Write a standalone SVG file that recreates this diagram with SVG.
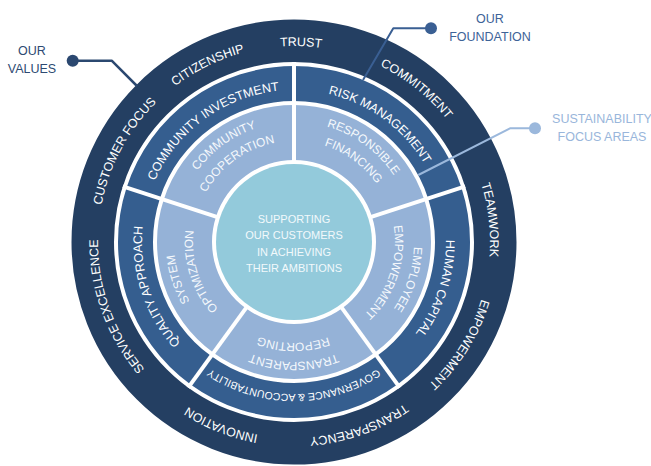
<svg xmlns="http://www.w3.org/2000/svg" xmlns:xlink="http://www.w3.org/1999/xlink" width="651" height="466" viewBox="0 0 651 466">
<style>
  text { font-family: "Liberation Sans", Arial, sans-serif; }
  .rt { fill: #ffffff; text-anchor: middle; }
  .val { font-size: 12.5px; }
  .area { font-size: 12.5px; }
  .focus { font-size: 12px; fill: #f4f8fc; }
  .ctr { font-size: 11px; fill: #f2f9fb; text-anchor: middle; }
  .blue { fill: #355e8f; }
  .light { fill: #95b2d7; }
  .div { stroke: #ffffff; stroke-width: 4; fill: none; }
  .lbl { font-size: 12.5px; text-anchor: middle; }
</style>
<defs>
  <path id="p196" d="M 98 242 A 196 196 0 1 1 490 242 A 196 196 0 1 1 98 242 A 196 196 0 1 1 490 242 A 196 196 0 1 1 98 242"/>
  <path id="p152" d="M 142 242 A 152 152 0 1 1 446 242 A 152 152 0 1 1 142 242 A 152 152 0 1 1 446 242 A 152 152 0 1 1 142 242"/>
  <path id="p120" d="M 174 242 A 120 120 0 1 1 414 242 A 120 120 0 1 1 174 242 A 120 120 0 1 1 414 242 A 120 120 0 1 1 174 242"/>
  <path id="p101" d="M 193 242 A 101 101 0 1 1 395 242 A 101 101 0 1 1 193 242 A 101 101 0 1 1 395 242 A 101 101 0 1 1 193 242"/>
</defs>
<rect width="651" height="466" fill="#ffffff"/>

<g id="values-ring">
  <circle cx="294" cy="242" r="201.25" fill="none" stroke="#243f62" stroke-width="42.5"/>
  <text class="rt val"><textPath xlink:href="#p196" href="#p196" startOffset="314.7">TRUST</textPath></text>
  <text class="rt val"><textPath xlink:href="#p196" href="#p196" startOffset="218.9">CITIZENSHIP</textPath></text>
  <text class="rt val"><textPath xlink:href="#p196" href="#p196" startOffset="439.9">COMMITMENT</textPath></text>
  <text class="rt val"><textPath xlink:href="#p196" href="#p196" startOffset="593.5">TEAMWORK</textPath></text>
  <text class="rt val"><textPath xlink:href="#p196" href="#p196" startOffset="724.2">EMPOWERMENT</textPath></text>
  <text class="rt val"><textPath xlink:href="#p196" href="#p196" startOffset="856.6">TRANSPARENCY</textPath></text>
  <text class="rt val"><textPath xlink:href="#p196" href="#p196" startOffset="997.5">INNOVATION</textPath></text>
  <text class="rt val"><textPath xlink:href="#p196" href="#p196" startOffset="1163.1">SERVICE EXCELLENCE</textPath></text>
  <text class="rt val"><textPath xlink:href="#p196" href="#p196" startOffset="1327.3">CUSTOMER FOCUS</textPath></text>
</g>

<g id="seg-community">
  <path class="blue" d="M 126.61 187.61 A 176 176 0 0 1 294 66 L 294 101 A 141 141 0 0 0 159.90 198.43 Z"/>
  <path class="light" d="M 163.71 199.66 A 137 137 0 0 1 294 105 L 294 160 A 82 82 0 0 0 216.01 216.66 Z"/>
  <text class="rt area"><textPath xlink:href="#p152" href="#p152" startOffset="143.3">COMMUNITY INVESTMENT</textPath></text>
  <text class="rt focus"><textPath xlink:href="#p120" href="#p120" startOffset="113.1">COMMUNITY</textPath></text>
  <text class="rt focus"><textPath xlink:href="#p101" href="#p101" startOffset="95.2">COOPERATION</textPath></text>
</g>

<g id="seg-risk">
  <path class="blue" d="M 294 66 A 176 176 0 0 1 461.39 187.61 L 428.10 198.43 A 141 141 0 0 0 294 101 Z"/>
  <path class="light" d="M 294 105 A 137 137 0 0 1 424.29 199.66 L 371.99 216.66 A 82 82 0 0 0 294 160 Z"/>
  <text class="rt area"><textPath xlink:href="#p152" href="#p152" startOffset="334.3">RISK MANAGEMENT</textPath></text>
  <text class="rt focus"><textPath xlink:href="#p120" href="#p120" startOffset="263.9">RESPONSIBLE</textPath></text>
  <text class="rt focus"><textPath xlink:href="#p101" href="#p101" startOffset="222.1">FINANCING</textPath></text>
</g>

<g id="seg-human">
  <path class="blue" d="M 461.39 187.61 A 176 176 0 0 1 397.45 384.39 L 376.88 356.07 A 141 141 0 0 0 428.10 198.43 Z"/>
  <path class="light" d="M 424.29 199.66 A 137 137 0 0 1 374.53 352.84 L 342.20 308.34 A 82 82 0 0 0 371.99 216.66 Z"/>
  <text class="rt area"><textPath xlink:href="#p152" href="#p152" startOffset="525.3">HUMAN CAPITAL</textPath></text>
  <text class="rt focus"><textPath xlink:href="#p120" href="#p120" startOffset="414.7">EMPLOYEE</textPath></text>
  <text class="rt focus"><textPath xlink:href="#p101" href="#p101" startOffset="349.0">EMPOWERMENT</textPath></text>
</g>

<g id="seg-governance">
  <path class="blue" d="M 397.45 384.39 A 176 176 0 0 1 190.55 384.39 L 211.12 356.07 A 141 141 0 0 0 376.88 356.07 Z"/>
  <path class="light" d="M 374.53 352.84 A 137 137 0 0 1 213.47 352.84 L 245.80 308.34 A 82 82 0 0 0 342.20 308.34 Z"/>
  <text class="rt area" style="font-size:10.5px"><textPath xlink:href="#p152" href="#p152" startOffset="716.3">GOVERNANCE &amp; ACCOUNTABILITY</textPath></text>
  <text class="rt focus"><textPath xlink:href="#p120" href="#p120" startOffset="565.5">TRANSPARENT</textPath></text>
  <text class="rt focus"><textPath xlink:href="#p101" href="#p101" startOffset="475.9">REPORTING</textPath></text>
</g>

<g id="seg-quality">
  <path class="blue" d="M 190.55 384.39 A 176 176 0 0 1 126.61 187.61 L 159.90 198.43 A 141 141 0 0 0 211.12 356.07 Z"/>
  <path class="light" d="M 213.47 352.84 A 137 137 0 0 1 163.71 199.66 L 216.01 216.66 A 82 82 0 0 0 245.80 308.34 Z"/>
  <text class="rt area"><textPath xlink:href="#p152" href="#p152" startOffset="907.3">QUALITY APPROACH</textPath></text>
  <text class="rt focus"><textPath xlink:href="#p120" href="#p120" startOffset="716.3">SYSTEM</textPath></text>
  <text class="rt focus"><textPath xlink:href="#p101" href="#p101" startOffset="602.9">OPTIMIZATION</textPath></text>
</g>

<g id="dividers">
  <line class="div" x1="294" y1="164" x2="294" y2="62"/>
  <line class="div" x1="368.18" y1="217.90" x2="465.19" y2="186.38"/>
  <line class="div" x1="339.85" y1="305.10" x2="399.80" y2="387.62"/>
  <line class="div" x1="248.15" y1="305.10" x2="188.20" y2="387.62"/>
  <line class="div" x1="219.82" y1="217.90" x2="122.81" y2="186.38"/>
</g>

<g id="center">
  <circle cx="294" cy="242" r="78" fill="#93cadb"/>
  <text class="ctr" x="294" y="223">SUPPORTING</text>
  <text class="ctr" x="294" y="239">OUR CUSTOMERS</text>
  <text class="ctr" x="294" y="256">IN ACHIEVING</text>
  <text class="ctr" x="294" y="272">THEIR AMBITIONS</text>
</g>

<g id="connectors" fill="none" stroke-linejoin="round">
  <polyline points="72.7,60.7 111.7,60.7 137,86" stroke="#2b4870" stroke-width="2.5"/>
  <circle cx="72.7" cy="60.7" r="6" fill="#2b4870" stroke="none"/>
  <polyline points="431,28.3 393.3,28.3 363,80" stroke="#3a5f93" stroke-width="2"/>
  <circle cx="431" cy="28.3" r="6" fill="#3a5f93" stroke="none"/>
  <polyline points="535,128.3 510,128.3 418.3,175" stroke="#9bb8dc" stroke-width="2"/>
  <circle cx="535" cy="128.3" r="6" fill="#9bb8dc" stroke="none"/>
</g>

<g id="label-values">
  <text class="lbl" x="32" y="55" fill="#2d4a72">OUR</text>
  <text class="lbl" x="32" y="73" fill="#2d4a72">VALUES</text>
</g>
<g id="label-foundation">
  <text class="lbl" x="490" y="23" fill="#3d6398">OUR</text>
  <text class="lbl" x="490" y="41" fill="#3d6398">FOUNDATION</text>
</g>
<g id="label-sustainability">
  <text class="lbl" x="602" y="122.5" fill="#99b6db">SUSTAINABILITY</text>
  <text class="lbl" x="602" y="141" fill="#99b6db">FOCUS AREAS</text>
</g>
</svg>
